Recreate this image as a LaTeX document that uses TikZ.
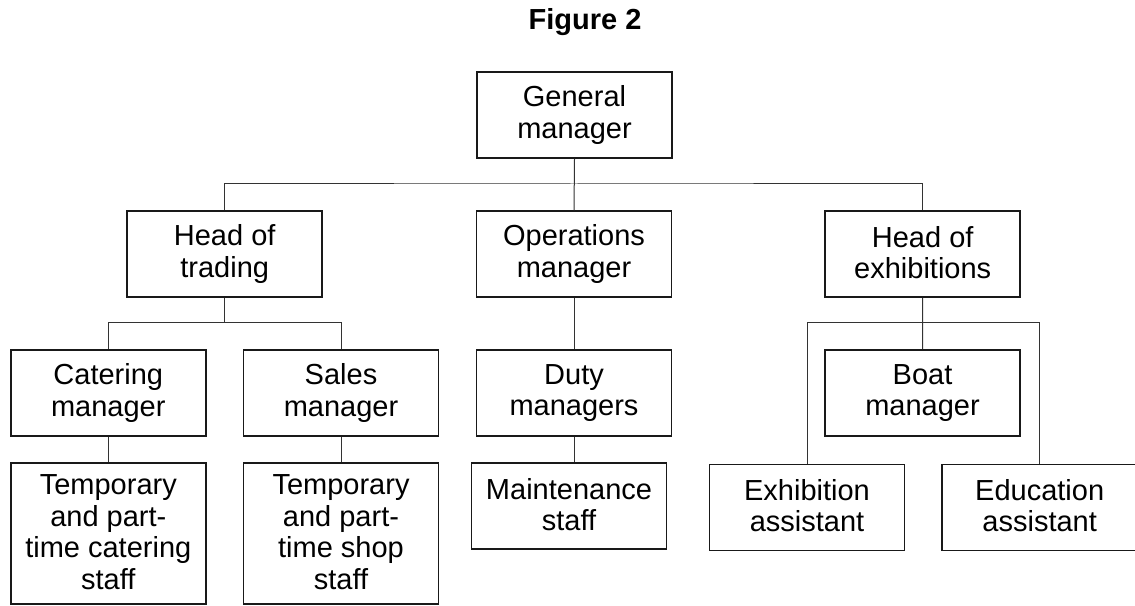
\documentclass[tikz,border=0pt]{standalone}
\usepackage{fontspec}
\setmainfont{Liberation Sans}
\usepackage{tikz}
\newcommand{\boxstrut}{\rule[-3.6pt]{0pt}{24pt}}

\begin{document}
\begin{tikzpicture}[x=1pt, y=1pt,
    font=\fontsize{29}{31.5}\selectfont,
    box/.style={draw=black!90, line width=1.8pt, minimum width=195pt,
      minimum height=86pt, inner sep=2pt, align=center,
      execute at begin node=\boxstrut, execute at end node=\boxstrut},
    tallbox/.style={box, minimum height=140.7pt},
    link/.style={draw=black!80, line width=1pt}]
    \useasboundingbox (0,0) rectangle (1135,605);

    % Title
    \node[anchor=base, font=\fontsize{29}{31.5}\selectfont\bfseries] (title) at (585,575) {Figure 2};

    % Top
    \node[box] (gm) at (574.5,490) {General\\manager};

    % Heads
    \node[box] (ht) at (224.7,350.8) {Head of\\trading};
    \node[box] (om) at (574,350.8) {Operations\\manager};
    \node[box] (he) at (922.7,350.8) {Head of\\exhibitions};

    % Managers
    \node[box] (cat) at (108.3,212) {Catering\\manager};
    \node[box] (sal) at (341,212) {Sales\\manager};
    \node[box] (duty) at (574,212) {Duty\\managers};
    \node[box] (boat) at (922.5,212) {Boat\\manager};

    % Staff
    \node[tallbox] (tcat) at (108.3,71.3) {Temporary\\and part-\\time catering\\staff};
    \node[tallbox] (tshop) at (341,71.3) {Temporary\\and part-\\time shop\\staff};
    \node[box] (maint) at (569,98.7) {Maintenance\\staff};
    \node[box] (exa) at (807,97.5) {Exhibition\\assistant};
    \node[box] (eda) at (1039.7,97.5) {Education\\assistant};

    % Bus lines
    \coordinate (topbus) at (574,421);
    \coordinate (tradebus) at (224.7,282.3);
    \coordinate (exhibus) at (922.7,282.3);

    % Links
    \draw[link] (gm.south) -- (om.north);
    \draw[link] (ht.north) |- (topbus) -| (he.north);
    \draw[link] (ht.south) -- (tradebus);
    \draw[link] (cat.north) |- (tradebus) -| (sal.north);
    \draw[link] (cat.south) -- (tcat.north);
    \draw[link] (sal.south) -- (tshop.north);
    \draw[link] (om.south) -- (duty.north);
    \draw[link] (duty.south) -- (duty.south |- maint.north);
    \draw[link] (he.south) -- (boat.north);
    \draw[link] (exa.north) |- (exhibus) -| (eda.north);
  \end{tikzpicture}
\end{document}
